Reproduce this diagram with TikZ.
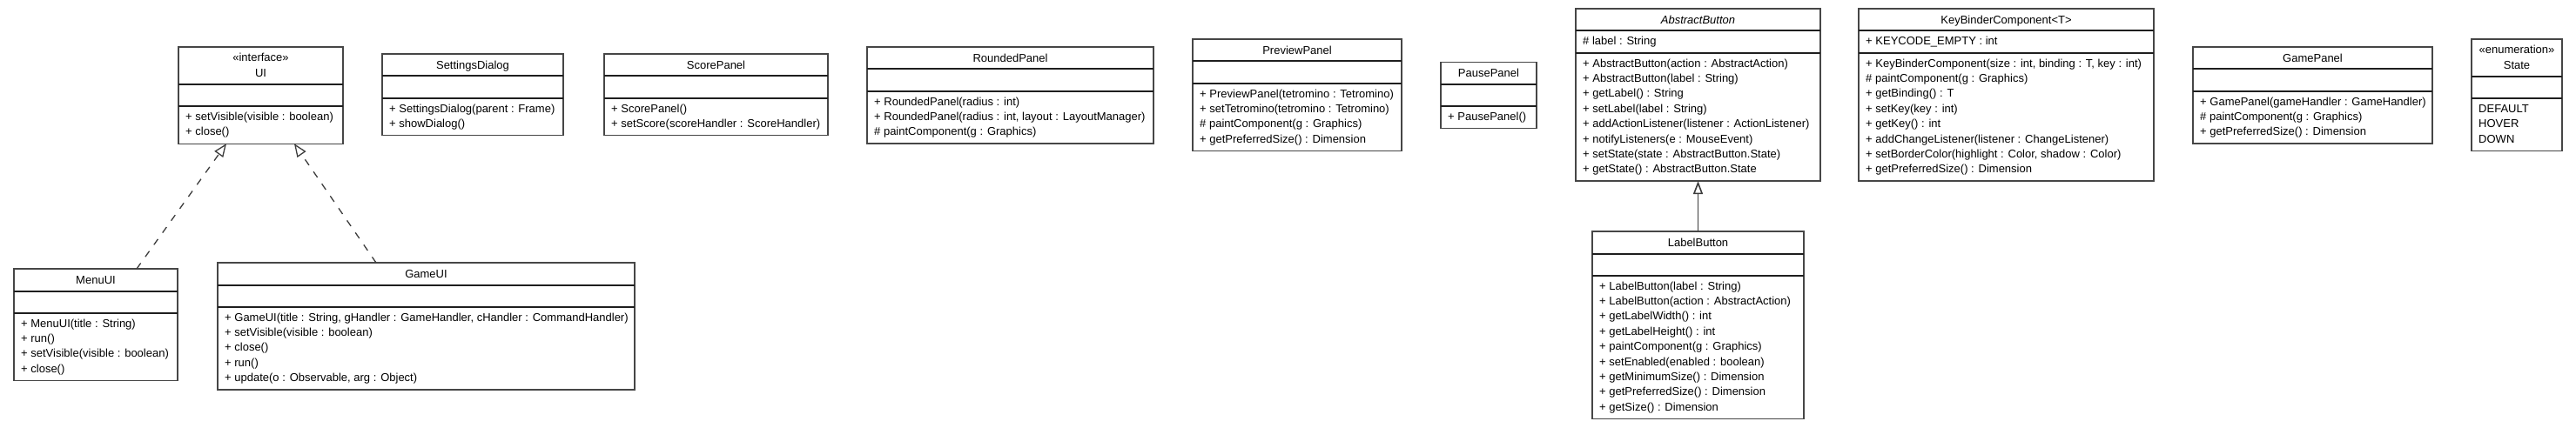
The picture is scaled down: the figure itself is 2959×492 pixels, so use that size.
\documentclass[tikz,border=0pt]{standalone}
\usepackage{fontspec}
\setmainfont{Liberation Sans}
\usetikzlibrary{arrows.meta}
\definecolor{bordercol}{RGB}{70,70,70}
\definecolor{divcol}{RGB}{30,30,30}
\definecolor{linecol}{RGB}{60,60,60}
\newcommand\fs{\rule{0pt}{12.2pt}}
\newcommand\cbox[5]{\node[cls, minimum width=#4pt, minimum height=#5pt] (#1) at (#2,#3) {};}
\newcommand\cdiv[2]{\draw[div] ([yshift=-#2pt]#1.north west) -- ([yshift=-#2pt]#1.north east);}
\tikzset{
  cls/.style={draw=bordercol, line width=1.3pt, fill=white, rectangle, anchor=north west, inner sep=0pt, outer sep=0pt},
  div/.style={draw=divcol, line width=2pt},
  ttl/.style={anchor=north, inner sep=0pt, align=center},
  lst/.style={anchor=north west, inner sep=0pt, align=left},
  realize/.style={draw=linecol, line width=1.3pt, dash pattern=on 8pt off 9pt, -{Triangle[open, length=15pt, width=12pt, fill=white]}},
  gen/.style={draw=linecol, line width=1.6pt, -{Triangle[open, length=15pt, width=11pt, fill=white]}}
}
\begin{document}
\begin{tikzpicture}[x=1pt, y=-1pt, font=\fontsize{13}{17.4}\selectfont]
\useasboundingbox (0,0) rectangle (2959,492);

% UI
\cbox{ui}{205}{54}{189}{111.2}
\cdiv{ui}{43}\cdiv{ui}{68.4}
\node[ttl] (ui-t) at ([yshift=-4.4pt]ui.north) {\fs«interface»\\UI};
\node[lst] (ui-m) at ([xshift=8pt,yshift=-72.2pt]ui.north west) {\fs+ setVisible(visible : boolean)\\+ close()};

% SettingsDialog
\cbox{settings}{439}{62}{208}{93.7}
\cdiv{settings}{25.5}\cdiv{settings}{50.9}
\node[ttl] (settings-t) at ([yshift=-5pt]settings.north) {\fs SettingsDialog};
\node[lst] (settings-m) at ([xshift=8pt,yshift=-54.7pt]settings.north west) {\fs+ SettingsDialog(parent : Frame)\\+ showDialog()};

% ScorePanel
\cbox{score}{694}{62}{257}{93.7}
\cdiv{score}{25.5}\cdiv{score}{50.9}
\node[ttl] (score-t) at ([yshift=-5pt]score.north) {\fs ScorePanel};
\node[lst] (score-m) at ([xshift=8pt,yshift=-54.7pt]score.north west) {\fs+ ScorePanel()\\+ setScore(scoreHandler : ScoreHandler)};

% RoundedPanel
\cbox{rounded}{996}{54}{329}{111.1}
\cdiv{rounded}{25.5}\cdiv{rounded}{50.9}
\node[ttl] (rounded-t) at ([yshift=-5pt]rounded.north) {\fs RoundedPanel};
\node[lst] (rounded-m) at ([xshift=8pt,yshift=-54.7pt]rounded.north west) {\fs+ RoundedPanel(radius : int)\\+ RoundedPanel(radius : int, layout : LayoutManager)\\\# paintComponent(g : Graphics)};

% PreviewPanel
\cbox{preview}{1370}{45}{240}{128.5}
\cdiv{preview}{25.5}\cdiv{preview}{50.9}
\node[ttl] (preview-t) at ([yshift=-5pt]preview.north) {\fs PreviewPanel};
\node[lst] (preview-m) at ([xshift=8pt,yshift=-54.7pt]preview.north west) {\fs+ PreviewPanel(tetromino : Tetromino)\\+ setTetromino(tetromino : Tetromino)\\\# paintComponent(g : Graphics)\\+ getPreferredSize() : Dimension};

% PausePanel
\cbox{pause}{1655}{71.5}{110}{76.3}
\cdiv{pause}{25.5}\cdiv{pause}{50.9}
\node[ttl] (pause-t) at ([yshift=-5pt]pause.north) {\fs PausePanel};
\node[lst] (pause-m) at ([xshift=8pt,yshift=-54.7pt]pause.north west) {\fs+ PausePanel()};

% AbstractButton
\cbox{abtn}{1810}{10}{281}{198.1}
\cdiv{abtn}{25.5}\cdiv{abtn}{50.9}
\node[ttl] (abtn-t) at ([yshift=-5pt]abtn.north) {\fs\itshape AbstractButton};
\node[lst] (abtn-a) at ([xshift=8pt,yshift=-29.3pt]abtn.north west) {\fs\# label : String};
\node[lst] (abtn-m) at ([xshift=8pt,yshift=-54.7pt]abtn.north west) {\fs+ AbstractButton(action : AbstractAction)\\+ AbstractButton(label : String)\\+ getLabel() : String\\+ setLabel(label : String)\\+ addActionListener(listener : ActionListener)\\+ notifyListeners(e : MouseEvent)\\+ setState(state : AbstractButton.State)\\+ getState() : AbstractButton.State};

% KeyBinderComponent
\cbox{keybinder}{2135}{10}{339}{198.1}
\cdiv{keybinder}{25.5}\cdiv{keybinder}{50.9}
\node[ttl] (keybinder-t) at ([yshift=-5pt]keybinder.north) {\fs KeyBinderComponent<T>};
\node[lst] (keybinder-a) at ([xshift=8pt,yshift=-29.3pt]keybinder.north west) {\fs+ KEYCODE\_EMPTY : int};
\node[lst] (keybinder-m) at ([xshift=8pt,yshift=-54.7pt]keybinder.north west) {\fs+ KeyBinderComponent(size : int, binding : T, key : int)\\\# paintComponent(g : Graphics)\\+ getBinding() : T\\+ setKey(key : int)\\+ getKey() : int\\+ addChangeListener(listener : ChangeListener)\\+ setBorderColor(highlight : Color, shadow : Color)\\+ getPreferredSize() : Dimension};

% GamePanel
\cbox{gamepanel}{2519}{54}{275}{111.1}
\cdiv{gamepanel}{25.5}\cdiv{gamepanel}{50.9}
\node[ttl] (gamepanel-t) at ([yshift=-5pt]gamepanel.north) {\fs GamePanel};
\node[lst] (gamepanel-m) at ([xshift=8pt,yshift=-54.7pt]gamepanel.north west) {\fs+ GamePanel(gameHandler : GameHandler)\\\# paintComponent(g : Graphics)\\+ getPreferredSize() : Dimension};

% State
\cbox{state}{2839}{45}{104}{128.6}
\cdiv{state}{43}\cdiv{state}{68.4}
\node[ttl] (state-t) at ([yshift=-4.4pt]state.north) {\fs«enumeration»\\State};
\node[lst] (state-m) at ([xshift=8pt,yshift=-72.2pt]state.north west) {\fs DEFAULT\\HOVER\\DOWN};

% MenuUI
\cbox{menuui}{16}{309}{188}{128.5}
\cdiv{menuui}{25.5}\cdiv{menuui}{50.9}
\node[ttl] (menuui-t) at ([yshift=-5pt]menuui.north) {\fs MenuUI};
\node[lst] (menuui-m) at ([xshift=8pt,yshift=-54.7pt]menuui.north west) {\fs+ MenuUI(title : String)\\+ run()\\+ setVisible(visible : boolean)\\+ close()};

% GameUI
\cbox{gameui}{250}{302}{479}{145.9}
\cdiv{gameui}{25.5}\cdiv{gameui}{50.9}
\node[ttl] (gameui-t) at ([yshift=-5pt]gameui.north) {\fs GameUI};
\node[lst] (gameui-m) at ([xshift=8pt,yshift=-54.7pt]gameui.north west) {\fs+ GameUI(title : String, gHandler : GameHandler, cHandler : CommandHandler)\\+ setVisible(visible : boolean)\\+ close()\\+ run()\\+ update(o : Observable, arg : Object)};

% LabelButton
\cbox{labelbtn}{1829}{266}{243}{215.5}
\cdiv{labelbtn}{25.5}\cdiv{labelbtn}{50.9}
\node[ttl] (labelbtn-t) at ([yshift=-5pt]labelbtn.north) {\fs LabelButton};
\node[lst] (labelbtn-m) at ([xshift=8pt,yshift=-54.7pt]labelbtn.north west) {\fs+ LabelButton(label : String)\\+ LabelButton(action : AbstractAction)\\+ getLabelWidth() : int\\+ getLabelHeight() : int\\+ paintComponent(g : Graphics)\\+ setEnabled(enabled : boolean)\\+ getMinimumSize() : Dimension\\+ getPreferredSize() : Dimension\\+ getSize() : Dimension};

% connectors
\draw[realize] ([xshift=141pt]menuui.north west) -- ([xshift=55pt]ui.south west);
\draw[realize] ([xshift=182pt]gameui.north west) -- ([xshift=133pt]ui.south west);
\draw[gen] (labelbtn.north) -- (abtn.south);
\end{tikzpicture}
\end{document}
